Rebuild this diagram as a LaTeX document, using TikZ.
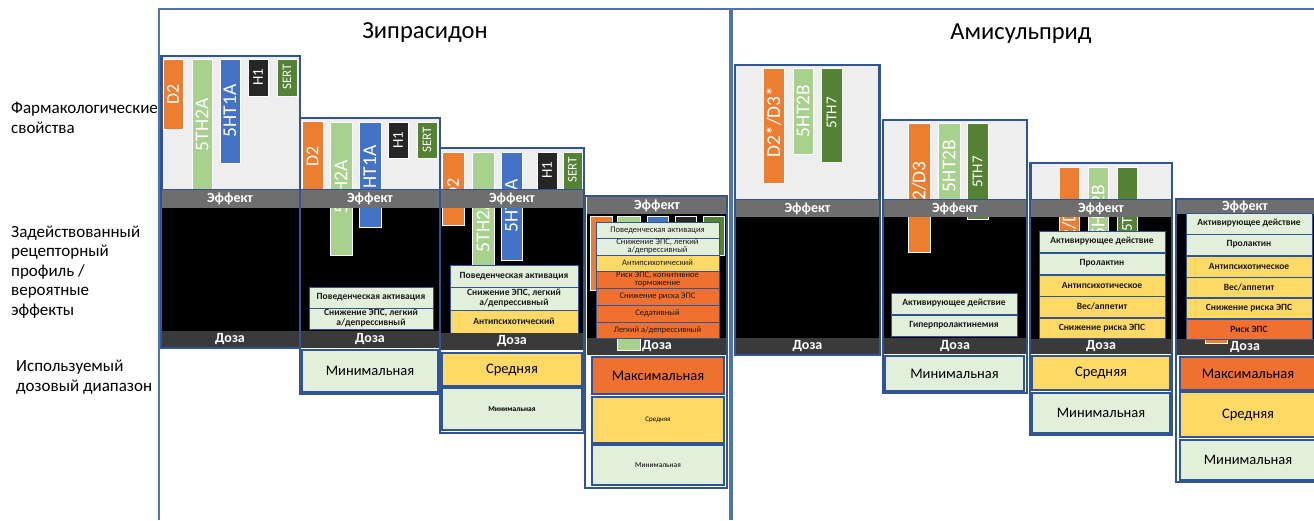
\documentclass[tikz,border=0pt]{standalone}
\usepackage{fontspec}
\setmainfont{Carlito}
\definecolor{boxgray}{HTML}{EEEEEE}
\definecolor{effgray}{HTML}{6E6E6E}
\definecolor{dosegray}{HTML}{3A3A3A}
\definecolor{frameblue}{HTML}{2F5597}
\definecolor{outerblue}{HTML}{4F73B0}
\definecolor{rorange}{HTML}{ED7D31}
\definecolor{lgreen}{HTML}{A9D18E}
\definecolor{rblue}{HTML}{4472C4}
\definecolor{darkbar}{HTML}{262626}
\definecolor{dgreen}{HTML}{548235}
\definecolor{cellgreen}{HTML}{E2EFDA}
\definecolor{cellyellow}{HTML}{FFD966}
\definecolor{cellorange}{HTML}{F07030}
% receptor bar with rotated label: name, x1, y1, x2, y2, colour, text, font size, label y
\newcommand\rbar[9]{%
  \filldraw[fill=#6, draw=white, line width=0.6] (#2,#3) rectangle (#4,#5);
  \node[bartext, font=\fontsize{#8}{#8}\selectfont] (#1) at ({(#2+#4)/2},#9) {#7};}
% boxed cell: name, x1, y1, x2, y2, fill, text, style
\newcommand\cell[8]{%
  \node[#8, fill=#6, minimum width={(#4-#2)*1pt}, minimum height={(#5-#3)*1pt}]
    (#1) at ({(#2+#4)/2},{(#3+#5)/2}) {#7};}
% grey band with white caption: name, x1, y1, x2, y2, colour, text
\newcommand\band[7]{%
  \fill[#6] (#2,#3) rectangle (#4,#5);
  \node[bandtext] (#1) at ({(#2+#4)/2},{(#3+#5)/2}) {#7};}
\begin{document}
\begin{tikzpicture}[x=1pt,y=-1pt,
  bartext/.style={rotate=90, text=white, inner sep=0},
  bandtext/.style={text=white, inner sep=0, font=\fontsize{14}{14}\selectfont\bfseries},
  ebox/.style={draw=frameblue, line width=0.7, inner sep=0, align=center,
    text=black!90, font=\fontsize{9.5}{10}\selectfont\bfseries},
  esmall/.style={ebox, font=\fontsize{8.5}{8.6}\selectfont},
  dbox/.style={draw=frameblue, line width=1.5, inner sep=0, align=center,
    font=\fontsize{14.5}{16}\selectfont},
  dtiny/.style={dbox, font=\fontsize{7.5}{8}\selectfont\bfseries},
  topframe/.style={draw=frameblue, line width=1.8},
  colframe/.style={draw=frameblue, line width=1.4},
  outer/.style={draw=outerblue, line width=1.2},
  rowlabel/.style={anchor=west, align=left, inner sep=0, font=\fontsize{17}{19.6}\selectfont},
  title/.style={font=\fontsize{24.5}{27}\selectfont}]
\useasboundingbox (0,0) rectangle (1314,520);
\fill[white] (0,0) rectangle (1314,520);

% outer frames of the two drugs
\draw[outer] (159,520) -- (159,9) -- (730,9) -- (730,520);
\draw[outer] (732,520) -- (732,9) -- (1316,9);
\node[title] (tz) at (425,33) {Зипрасидон};
\node[title] (ta) at (1021,34) {Амисульприд};

% row labels
\node[rowlabel] (lab1) at (11,118) {Фармакологические\\свойства};
\node[rowlabel] (lab2) at (11,272) {Задействованный\\рецепторный\\профиль /\\вероятные\\эффекты};
\node[rowlabel] (lab3) at (16,377) {Используемый\\дозовый диапазон};

% ===== Зипрасидон, column 1
\fill[boxgray] (162,56) rectangle (300,190);
\fill[black] (160,208) rectangle (300,331);
\rbar{za1}{163}{59}{183}{129}{rorange}{D2}{18}{94}
\rbar{za2}{192}{59}{212}{190}{lgreen}{5TH2A}{19.5}{125}
\rbar{za3}{220}{59}{240}{163}{rblue}{5HT1A}{19.5}{111}
\rbar{za4}{248}{59}{268}{96}{darkbar}{H1}{15}{77}
\rbar{za5}{277}{59}{297}{96}{dgreen}{SERT}{13}{77}
\draw[topframe] (162,56) rectangle (300,190);
\band{zaeff}{160}{190}{300}{208}{effgray}{Эффект}
\band{zadose}{160}{331}{300}{348}{dosegray}{Доза}
\draw[colframe] (161,56) rectangle (300,348);

% ===== Зипрасидон, column 2
\fill[boxgray] (300,118) rectangle (440,190);
\fill[black] (300,208) rectangle (440,331);
\rbar{zb1}{302}{121}{323}{192}{rorange}{D2}{18}{156}
\rbar{zb2}{330}{122}{352}{255}{lgreen}{5TH2A}{19.5}{187}
\rbar{zb3}{359}{122}{381}{227}{rblue}{5HT1A}{19.5}{172}
\rbar{zb4}{388}{122}{408}{158}{darkbar}{H1}{15}{140}
\rbar{zb5}{417}{122}{437}{158}{dgreen}{SERT}{13}{140}
\draw[topframe] (300,118) rectangle (440,190);
\band{zbeff}{300}{190}{440}{208}{effgray}{Эффект}
\cell{zbe1}{309}{287}{433}{308}{cellgreen}{Поведенческая активация}{ebox}
\cell{zbe2}{309}{308}{433}{329}{cellgreen}{Снижение ЭПС, легкий\\а/депрессивный}{ebox}
\band{zbdose}{300}{331}{440}{348}{dosegray}{Доза}
\cell{zbd1}{302}{350}{438}{392}{cellgreen}{Минимальная}{dbox}
\draw[colframe] (300,118) rectangle (440,394);

% ===== Зипрасидон, column 3
\fill[boxgray] (440,148) rectangle (584,190);
\fill[black] (440,208) rectangle (584,333);
\rbar{zc1}{442}{152}{464}{225}{rorange}{D2}{18}{188}
\rbar{zc2}{472}{152}{494}{300}{lgreen}{5TH2A}{19.5}{226}
\rbar{zc3}{501}{152}{522}{260}{rblue}{5HT1A}{19.5}{206}
\rbar{zc4}{537}{152}{557}{192}{darkbar}{H1}{15}{170}
\rbar{zc5}{563}{152}{582}{192}{dgreen}{SERT}{13}{170}
\draw[topframe] (440,148) rectangle (584,190);
\band{zceff}{440}{190}{584}{208}{effgray}{Эффект}
\cell{zce1}{450}{265}{578}{287}{cellgreen}{Поведенческая активация}{ebox}
\cell{zce2}{450}{287}{578}{310}{cellgreen}{Снижение ЭПС, легкий\\а/депрессивный}{ebox}
\cell{zce3}{450}{310}{578}{333}{cellyellow}{Антипсихотический}{ebox}
\band{zcdose}{440}{333}{584}{350}{dosegray}{Доза}
\cell{zcd1}{442}{353}{582}{386}{cellyellow}{Средняя}{dbox}
\cell{zcd2}{442}{388}{582}{430}{cellgreen}{Минимальная}{dtiny}
\draw[colframe] (440,148) rectangle (584,433);

% ===== Зипрасидон, column 4
\fill[black] (587,214) rectangle (727,338);
\filldraw[fill=rorange, draw=white, line width=0.6] (590,216) rectangle (612,290);
\filldraw[fill=rblue, draw=white, line width=0.6] (647,216) rectangle (668,280);
\filldraw[fill=darkbar, draw=white, line width=0.6] (675,216) rectangle (696,250);
\filldraw[fill=dgreen, draw=white, line width=0.6] (703,216) rectangle (724,255);
\band{zdeff}{587}{197}{727}{214}{effgray}{Эффект}
\band{zddose}{587}{338}{727}{355}{dosegray}{Доза}
\filldraw[fill=lgreen, draw=white, line width=0.6] (617,216) rectangle (640,350);
\cell{zde1}{596}{222}{719}{238}{cellgreen}{Поведенческая активация}{esmall}
\cell{zde2}{596}{238}{719}{255}{cellgreen}{Снижение ЭПС, легкий\\а/депрессивный}{esmall}
\cell{zde3}{596}{255}{719}{271}{cellyellow}{Антипсихотический}{esmall}
\cell{zde4}{596}{271}{719}{288}{cellorange}{Риск ЭПС, когнитивное\\торможение}{esmall}
\cell{zde5}{596}{288}{719}{305}{cellorange}{Снижение риска ЭПС}{esmall}
\cell{zde6}{596}{305}{719}{322}{cellorange}{Седативный}{esmall}
\cell{zde7}{596}{322}{719}{338}{cellorange}{Легкий а/депрессивный}{esmall}
\cell{zdd1}{592}{357}{724}{394}{cellorange}{Максимальная}{dbox}
\cell{zdd2}{592}{397}{724}{443}{cellyellow}{Средняя}{dbox, font=\fontsize{7}{8}\selectfont}
\cell{zdd3}{592}{445}{724}{485}{cellgreen}{Минимальная}{dbox, font=\fontsize{7.5}{8}\selectfont}
\draw[colframe] (585,196) rectangle (727,488);

% ===== Амисульприд, column 1
\fill[boxgray] (735,65) rectangle (879,200);
\fill[black] (735,217) rectangle (880,338);
\rbar{aa1}{763}{68}{784}{183}{rorange}{D2*/D3*}{19.5}{122}
\rbar{aa2}{793}{68}{813}{154}{lgreen}{5HT2B}{19.5}{111}
\rbar{aa3}{821}{68}{842}{162}{dgreen}{5TH7}{15}{113}
\draw[topframe] (735,65) rectangle (879,200);
\band{aaeff}{735}{200}{880}{217}{effgray}{Эффект}
\band{aadose}{735}{338}{880}{355}{dosegray}{Доза}
\draw[colframe] (735,65) rectangle (880,355);

% ===== Амисульприд, column 2
\fill[boxgray] (883,120) rectangle (1027,200);
\fill[black] (883,217) rectangle (1027,338);
\rbar{ab1}{908}{123}{930}{252}{rorange}{D2/D3}{19.5}{187}
\rbar{ab2}{938}{123}{960}{208}{lgreen}{5HT2B}{19.5}{166}
\rbar{ab3}{967}{123}{988}{219}{dgreen}{5TH7}{15}{172}
\draw[topframe] (883,120) rectangle (1027,200);
\band{abeff}{883}{200}{1027}{217}{effgray}{Эффект}
\cell{abe1}{891}{293}{1017}{314}{cellgreen}{Активирующее действие}{ebox}
\cell{abe2}{891}{315}{1017}{336}{cellgreen}{Гиперпролактинемия}{ebox}
\band{abdose}{883}{338}{1027}{354}{dosegray}{Доза}
\cell{abd1}{885}{356}{1024}{391}{cellgreen}{Минимальная}{dbox}
\draw[colframe] (883,120) rectangle (1027,393);

% ===== Амисульприд, column 3
\fill[boxgray] (1031,163) rectangle (1172,200);
\fill[black] (1030,217) rectangle (1172,339);
\rbar{ac1}{1059}{167}{1079}{260}{rorange}{D2/D3}{19.5}{226}
\rbar{ac2}{1088}{167}{1108}{260}{lgreen}{5HT2B}{19.5}{211}
\rbar{ac3}{1117}{167}{1137}{260}{dgreen}{5TH7}{15}{216}
\draw[topframe] (1031,163) rectangle (1172,200);
\band{aceff}{1030}{200}{1172}{217}{effgray}{Эффект}
\cell{ace1}{1039}{231}{1165}{252}{cellgreen}{Активирующее действие}{ebox}
\cell{ace2}{1039}{253}{1165}{274}{cellgreen}{Пролактин}{ebox}
\cell{ace3}{1039}{275}{1165}{296}{cellyellow}{Антипсихотическое}{ebox}
\cell{ace4}{1039}{296}{1165}{317}{cellyellow}{Вес/аппетит}{ebox}
\cell{ace5}{1039}{318}{1165}{338}{cellyellow}{Снижение риска ЭПС}{ebox}
\band{acdose}{1030}{339}{1172}{354}{dosegray}{Доза}
\cell{acd1}{1032}{356}{1170}{390}{cellyellow}{Средняя}{dbox}
\cell{acd2}{1032}{393}{1170}{433}{cellgreen}{Минимальная}{dbox}
\draw[colframe] (1030,163) rectangle (1172,435);

% ===== Амисульприд, column 4
\fill[black] (1176,214) rectangle (1314,339);
\band{adeff}{1176}{199}{1314}{214}{effgray}{Эффект}
\band{addose}{1176}{339}{1314}{355}{dosegray}{Доза}
\filldraw[fill=rorange, draw=white, line width=0.6] (1205,330) rectangle (1227,343);
\cell{ade1}{1186}{213}{1312}{234}{cellgreen}{Активирующее действие}{ebox}
\cell{ade2}{1186}{234}{1312}{255}{cellgreen}{Пролактин}{ebox}
\cell{ade3}{1186}{256}{1312}{277}{cellyellow}{Антипсихотическое}{ebox}
\cell{ade4}{1186}{277}{1312}{297}{cellyellow}{Вес/аппетит}{ebox}
\cell{ade5}{1186}{298}{1312}{318}{cellyellow}{Снижение риска ЭПС}{ebox}
\cell{ade6}{1186}{319}{1312}{339}{cellorange}{Риск ЭПС}{ebox}
\cell{add1}{1180}{357}{1316}{390}{cellorange}{Максимальная}{dbox}
\cell{add2}{1180}{392}{1316}{437}{cellyellow}{Средняя}{dbox}
\cell{add3}{1180}{440}{1316}{480}{cellgreen}{Минимальная}{dbox}
\draw[colframe] (1176,199) rectangle (1318,482);
\end{tikzpicture}
\end{document}
